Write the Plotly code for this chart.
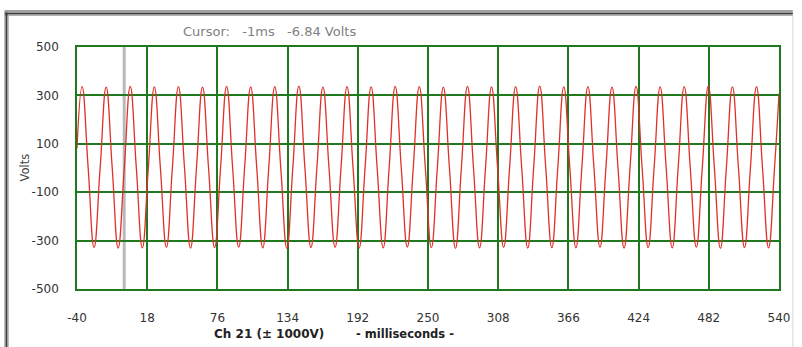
import plotly.graph_objects as go

# Channel 21 capture: key samples of the voltage waveform (ms, V)
time_ms = [
    -40.0, -35.8, -30.8, -25.9, -20.9, -15.9, -10.9, -6.0, -1.0,
    4.0, 9.0, 14.0, 18.9,
    23.9, 28.9, 33.9, 38.8,
    43.8, 48.8, 53.8, 58.7,
    63.7, 68.7, 73.7, 78.6,
    83.6, 88.6, 93.6, 98.5,
    103.5, 108.5, 113.5, 118.4,
    123.4, 128.4, 133.4, 138.3,
    143.3, 148.3, 153.3, 158.2,
    163.2, 168.2, 173.2, 178.1,
    183.1, 188.1, 193.1, 198.0,
    203.0, 208.0, 213.0, 217.9,
    222.9, 227.9, 232.9, 237.8,
    242.8, 247.8, 252.8, 257.7,
    262.7, 267.7, 272.7, 277.6,
    282.6, 287.6, 292.6, 297.5,
    302.5, 307.5, 312.5, 317.4,
    322.4, 327.4, 332.4, 337.3,
    342.3, 347.3, 352.3, 357.2,
    362.2, 367.2, 372.2, 377.1,
    382.1, 387.1, 392.1, 397.0,
    402.0, 407.0, 412.0, 416.9,
    421.9, 426.9, 431.9, 436.8,
    441.8, 446.8, 451.8, 456.7,
    461.7, 466.7, 471.7, 476.6,
    481.6, 486.6, 491.6, 496.5,
    501.5, 506.5, 511.5, 516.4,
    521.4, 526.4, 531.4, 536.3,
    540.0,
]
volts = [
    81, 336, 2, -329, -1, 334, 1, -331, -6.84,
    337, 1, -330, -2,
    335, 0, -328, 1,
    336, 2, -331, -1,
    334, -1, -329, 0,
    337, 0, -327, 2,
    335, 1, -330, -1,
    336, -2, -332, 0,
    338, 0, -329, 1,
    334, 1, -328, -2,
    336, 0, -331, 0,
    335, -1, -330, 1,
    337, 2, -327, -1,
    336, 0, -329, 0,
    334, 1, -332, 2,
    337, -1, -330, -1,
    335, 0, -328, 0,
    336, 2, -331, 1,
    338, 0, -329, -2,
    335, -1, -330, 0,
    336, 1, -328, 1,
    334, 0, -331, -1,
    337, 2, -329, 0,
    335, -1, -330, 2,
    336, 0, -327, -1,
    338, 1, -332, 0,
    335, 0, -329, 1,
    336, -2, -330, 0,
    308,
]

x_ticks = [-40, 18, 76, 134, 192, 250, 308, 366, 424, 482, 540]
y_ticks = [-500, -300, -100, 100, 300, 500]
cursor_ms = -1
cursor_v = -6.84

GREEN = "#1f7a1f"
FONT = "DejaVu Sans"

fig = go.Figure()
fig.add_trace(go.Scatter(
    x=time_ms, y=volts, mode="lines",
    line=dict(color="#e0302a", width=1.3, shape="spline", smoothing=1.3),
    hoverinfo="skip", showlegend=False,
))

# cursor marker
fig.add_shape(type="line", xref="x", yref="y", x0=cursor_ms, x1=cursor_ms,
              y0=-500, y1=500, line=dict(color="#b9b9b9", width=3), layer="below")

W, H = 802, 347
L, R, T, B = 77, 786, 47, 289


def px(x):
    return (x - L) / (R - L)


def py(y):
    return (B - y) / (B - T)


# window frame
frame = [
    (4, 11, 800, 11, "#a0a0a0", 2),
    (4, 13.5, 800, 13.5, "#3a3a3a", 2),
    (4, 15.5, 800, 15.5, "#b0b0b0", 1),
    (4, 11, 4, 347, "#a8a8a8", 1),
    (5.8, 12.5, 5.8, 347, "#3a3a3a", 2),
    (7.5, 14.5, 7.5, 347, "#a0a0a0", 1),
    (800, 16, 800, 347, "#d6d6d6", 1),
]
for x0, y0, x1, y1, c, w in frame:
    fig.add_shape(type="line", xref="paper", yref="paper",
                  x0=px(x0), y0=py(y0), x1=px(x1), y1=py(y1),
                  line=dict(color=c, width=w))

fig.add_annotation(text=f"Cursor:&nbsp;&nbsp; {cursor_ms}ms&nbsp;&nbsp; {cursor_v} Volts",
                   xref="paper", yref="paper", x=px(182), y=py(31),
                   xanchor="left", yanchor="middle", showarrow=False,
                   font=dict(family=FONT, size=13, color="#808080"))
fig.add_annotation(text="Volts", textangle=-90,
                   xref="paper", yref="paper", x=px(24), y=py(168),
                   xanchor="center", yanchor="middle", showarrow=False,
                   font=dict(family=FONT, size=11.5, color="#444444"))
fig.add_annotation(text="<b>Ch 21 (± 1000V)</b>",
                   xref="paper", yref="paper", x=px(213), y=py(334),
                   xanchor="left", yanchor="middle", showarrow=False,
                   font=dict(family=FONT, size=12, color="#222222"))
fig.add_annotation(text="<b>- milliseconds -</b>",
                   xref="paper", yref="paper", x=px(357), y=py(334),
                   xanchor="left", yanchor="middle", showarrow=False,
                   font=dict(family=FONT, size=11.5, color="#222222"))

fig.update_layout(
    width=W, height=H,
    margin=dict(l=L, r=W - R, t=T, b=H - B),
    paper_bgcolor="white", plot_bgcolor="white",
    font=dict(family=FONT, size=12, color="#333333"),
    xaxis=dict(range=[-40, 540], tickvals=x_ticks, ticktext=[str(v) for v in x_ticks],
               showgrid=True, gridcolor=GREEN, gridwidth=1.5,
               showline=True, linecolor=GREEN, linewidth=1.5, mirror=True,
               zeroline=False, ticks="", ticklabelstandoff=17,
               tickfont=dict(family=FONT, size=12, color="#333333")),
    yaxis=dict(range=[-500, 500], tickvals=y_ticks, ticktext=[str(v) for v in y_ticks],
               showgrid=True, gridcolor=GREEN, gridwidth=1.5,
               showline=True, linecolor=GREEN, linewidth=1.5, mirror=True,
               zeroline=False, ticks="", ticklabelstandoff=14,
               tickfont=dict(family=FONT, size=12, color="#333333")),
)

fig.write_html("out.html")
